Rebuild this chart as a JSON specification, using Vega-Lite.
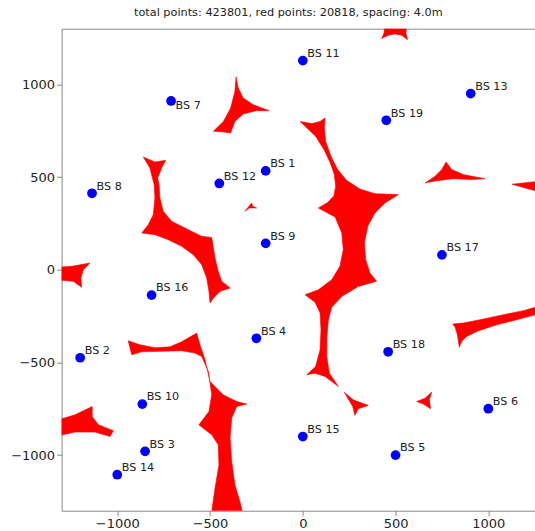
{
  "$schema": "https://vega.github.io/schema/vega-lite/v6.json",
  "autosize": {"type": "none"},
  "padding": {"left": 61.6, "top": 28.7, "right": 0, "bottom": 20},
  "width": 473.5,
  "height": 482,
  "title": {"text": "total points: 423801, red points: 20818, spacing: 4.0m", "font": "DejaVu Sans", "fontSize": 11.3, "fontWeight": "normal", "color": "#222", "anchor": "middle", "dx": -10, "offset": 1.5, "baseline": "alphabetic"},
  "config": {
    "view": {"stroke": "#888", "strokeWidth": 1},
    "axis": {"domain": false, "grid": false, "tickColor": "#888", "tickSize": 5, "tickWidth": 1, "labelFont": "DejaVu Sans", "labelFontSize": 13, "labelColor": "#222", "labelPadding": 2, "title": null}
  },
  "datasets": {
    "bs": [
      {"name": "BS 1", "x": -200, "y": 533},
      {"name": "BS 2", "x": -1200, "y": -475},
      {"name": "BS 3", "x": -850, "y": -980},
      {"name": "BS 4", "x": -250, "y": -370},
      {"name": "BS 5", "x": 500, "y": -1000},
      {"name": "BS 6", "x": 1000, "y": -750},
      {"name": "BS 7", "x": -710, "y": 910},
      {"name": "BS 8", "x": -1136, "y": 412},
      {"name": "BS 9", "x": -200, "y": 142},
      {"name": "BS 10", "x": -865, "y": -725},
      {"name": "BS 11", "x": 0, "y": 1128},
      {"name": "BS 12", "x": -450, "y": 465},
      {"name": "BS 13", "x": 905, "y": 950},
      {"name": "BS 14", "x": -1000, "y": -1106},
      {"name": "BS 15", "x": 0, "y": -900},
      {"name": "BS 16", "x": -815, "y": -137},
      {"name": "BS 17", "x": 750, "y": 80},
      {"name": "BS 18", "x": 460, "y": -443},
      {"name": "BS 19", "x": 450, "y": 806}
    ],
    "red": [
      {"s": "C", "i": 1, "x": -15, "y": 800}, {"s": "C", "i": 2, "x": 48, "y": 788}, {"s": "C", "i": 3, "x": 93, "y": 800}, {"s": "C", "i": 4, "x": 120, "y": 818}, {"s": "C", "i": 5, "x": 116, "y": 764}, {"s": "C", "i": 6, "x": 123, "y": 693}, {"s": "C", "i": 7, "x": 152, "y": 612}, {"s": "C", "i": 8, "x": 188, "y": 540}, {"s": "C", "i": 9, "x": 236, "y": 482}, {"s": "C", "i": 10, "x": 308, "y": 435}, {"s": "C", "i": 11, "x": 389, "y": 410}, {"s": "C", "i": 12, "x": 515, "y": 405}, {"s": "C", "i": 13, "x": 443, "y": 360}, {"s": "C", "i": 14, "x": 389, "y": 306}, {"s": "C", "i": 15, "x": 350, "y": 234}, {"s": "C", "i": 16, "x": 332, "y": 144}, {"s": "C", "i": 17, "x": 339, "y": 54}, {"s": "C", "i": 18, "x": 362, "y": -18}, {"s": "C", "i": 19, "x": 398, "y": -63}, {"s": "C", "i": 20, "x": 299, "y": -90}, {"s": "C", "i": 21, "x": 210, "y": -144}, {"s": "C", "i": 22, "x": 156, "y": -202}, {"s": "C", "i": 23, "x": 138, "y": -270}, {"s": "C", "i": 24, "x": 130, "y": -360}, {"s": "C", "i": 25, "x": 129, "y": -468}, {"s": "C", "i": 26, "x": 143, "y": -558}, {"s": "C", "i": 27, "x": 192, "y": -630}, {"s": "C", "i": 28, "x": 120, "y": -576}, {"s": "C", "i": 29, "x": 66, "y": -558}, {"s": "C", "i": 30, "x": 21, "y": -567}, {"s": "C", "i": 31, "x": 69, "y": -522}, {"s": "C", "i": 32, "x": 93, "y": -432}, {"s": "C", "i": 33, "x": 98, "y": -324}, {"s": "C", "i": 34, "x": 93, "y": -234}, {"s": "C", "i": 35, "x": 66, "y": -176}, {"s": "C", "i": 36, "x": 12, "y": -135}, {"s": "C", "i": 37, "x": 84, "y": -108}, {"s": "C", "i": 38, "x": 156, "y": -54}, {"s": "C", "i": 39, "x": 200, "y": 18}, {"s": "C", "i": 40, "x": 218, "y": 108}, {"s": "C", "i": 41, "x": 210, "y": 198}, {"s": "C", "i": 42, "x": 174, "y": 284}, {"s": "C", "i": 43, "x": 84, "y": 333}, {"s": "C", "i": 44, "x": 134, "y": 363}, {"s": "C", "i": 45, "x": 168, "y": 399}, {"s": "C", "i": 46, "x": 177, "y": 450}, {"s": "C", "i": 47, "x": 170, "y": 513}, {"s": "C", "i": 48, "x": 148, "y": 576}, {"s": "C", "i": 49, "x": 116, "y": 644}, {"s": "C", "i": 50, "x": 69, "y": 720},
      {"s": "A", "i": 1, "x": -360, "y": 1040}, {"s": "A", "i": 2, "x": -348, "y": 980}, {"s": "A", "i": 3, "x": -321, "y": 926}, {"s": "A", "i": 4, "x": -267, "y": 890}, {"s": "A", "i": 5, "x": -182, "y": 858}, {"s": "A", "i": 6, "x": -249, "y": 858}, {"s": "A", "i": 7, "x": -321, "y": 840}, {"s": "A", "i": 8, "x": -366, "y": 800}, {"s": "A", "i": 9, "x": -389, "y": 738}, {"s": "A", "i": 10, "x": -428, "y": 743}, {"s": "A", "i": 11, "x": -482, "y": 747}, {"s": "A", "i": 12, "x": -428, "y": 800}, {"s": "A", "i": 13, "x": -389, "y": 872}, {"s": "A", "i": 14, "x": -366, "y": 962},
      {"s": "T", "i": 1, "x": 443, "y": 1330}, {"s": "T", "i": 2, "x": 560, "y": 1330}, {"s": "T", "i": 3, "x": 556, "y": 1277}, {"s": "T", "i": 4, "x": 564, "y": 1241}, {"s": "T", "i": 5, "x": 533, "y": 1265}, {"s": "T", "i": 6, "x": 497, "y": 1272}, {"s": "T", "i": 7, "x": 461, "y": 1265}, {"s": "T", "i": 8, "x": 425, "y": 1247}, {"s": "T", "i": 9, "x": 438, "y": 1277},
      {"s": "R1", "i": 1, "x": 772, "y": 581}, {"s": "R1", "i": 2, "x": 803, "y": 540}, {"s": "R1", "i": 3, "x": 865, "y": 513}, {"s": "R1", "i": 4, "x": 982, "y": 491}, {"s": "R1", "i": 5, "x": 901, "y": 486}, {"s": "R1", "i": 6, "x": 812, "y": 491}, {"s": "R1", "i": 7, "x": 722, "y": 480}, {"s": "R1", "i": 8, "x": 659, "y": 468}, {"s": "R1", "i": 9, "x": 713, "y": 504}, {"s": "R1", "i": 10, "x": 749, "y": 540},
      {"s": "R2", "i": 1, "x": 1128, "y": 461}, {"s": "R2", "i": 2, "x": 1252, "y": 475}, {"s": "R2", "i": 3, "x": 1320, "y": 483}, {"s": "R2", "i": 4, "x": 1320, "y": 407}, {"s": "R2", "i": 5, "x": 1252, "y": 426},
      {"s": "L", "i": 1, "x": -860, "y": 608}, {"s": "L", "i": 2, "x": -797, "y": 581}, {"s": "L", "i": 3, "x": -739, "y": 590}, {"s": "L", "i": 4, "x": -761, "y": 549}, {"s": "L", "i": 5, "x": -782, "y": 495}, {"s": "L", "i": 6, "x": -775, "y": 459}, {"s": "L", "i": 7, "x": -770, "y": 387}, {"s": "L", "i": 8, "x": -752, "y": 315}, {"s": "L", "i": 9, "x": -707, "y": 261}, {"s": "L", "i": 10, "x": -617, "y": 216}, {"s": "L", "i": 11, "x": -545, "y": 180}, {"s": "L", "i": 12, "x": -491, "y": 174}, {"s": "L", "i": 13, "x": -473, "y": 63}, {"s": "L", "i": 14, "x": -456, "y": -9}, {"s": "L", "i": 15, "x": -437, "y": -63}, {"s": "L", "i": 16, "x": -392, "y": -99}, {"s": "L", "i": 17, "x": -446, "y": -117}, {"s": "L", "i": 18, "x": -482, "y": -153}, {"s": "L", "i": 19, "x": -500, "y": -180}, {"s": "L", "i": 20, "x": -506, "y": -117}, {"s": "L", "i": 21, "x": -518, "y": -45}, {"s": "L", "i": 22, "x": -545, "y": 27}, {"s": "L", "i": 23, "x": -590, "y": 81}, {"s": "L", "i": 24, "x": -653, "y": 126}, {"s": "L", "i": 25, "x": -725, "y": 162}, {"s": "L", "i": 26, "x": -797, "y": 189}, {"s": "L", "i": 27, "x": -868, "y": 198}, {"s": "L", "i": 28, "x": -833, "y": 243}, {"s": "L", "i": 29, "x": -806, "y": 297}, {"s": "L", "i": 30, "x": -797, "y": 387}, {"s": "L", "i": 31, "x": -801, "y": 459}, {"s": "L", "i": 32, "x": -806, "y": 477}, {"s": "L", "i": 33, "x": -824, "y": 549},
      {"s": "E1", "i": 1, "x": -1330, "y": 12}, {"s": "E1", "i": 2, "x": -1246, "y": 18}, {"s": "E1", "i": 3, "x": -1147, "y": 36}, {"s": "E1", "i": 4, "x": -1183, "y": 0}, {"s": "E1", "i": 5, "x": -1196, "y": -45}, {"s": "E1", "i": 6, "x": -1192, "y": -95}, {"s": "E1", "i": 7, "x": -1237, "y": -63}, {"s": "E1", "i": 8, "x": -1330, "y": -54},
      {"s": "S1", "i": 1, "x": -312, "y": 315}, {"s": "S1", "i": 2, "x": -276, "y": 360}, {"s": "S1", "i": 3, "x": -270, "y": 342}, {"s": "S1", "i": 4, "x": -249, "y": 333}, {"s": "S1", "i": 5, "x": -288, "y": 333},
      {"s": "R3", "i": 1, "x": 808, "y": -293}, {"s": "R3", "i": 2, "x": 865, "y": -288}, {"s": "R3", "i": 3, "x": 955, "y": -270}, {"s": "R3", "i": 4, "x": 1081, "y": -243}, {"s": "R3", "i": 5, "x": 1189, "y": -221}, {"s": "R3", "i": 6, "x": 1252, "y": -203}, {"s": "R3", "i": 7, "x": 1320, "y": -189}, {"s": "R3", "i": 8, "x": 1320, "y": -234}, {"s": "R3", "i": 9, "x": 1252, "y": -243}, {"s": "R3", "i": 10, "x": 1153, "y": -270}, {"s": "R3", "i": 11, "x": 1045, "y": -297}, {"s": "R3", "i": 12, "x": 937, "y": -333}, {"s": "R3", "i": 13, "x": 883, "y": -360}, {"s": "R3", "i": 14, "x": 856, "y": -387}, {"s": "R3", "i": 15, "x": 844, "y": -419}, {"s": "R3", "i": 16, "x": 833, "y": -351}, {"s": "R3", "i": 17, "x": 821, "y": -311},
      {"s": "B", "i": 1, "x": -941, "y": -383}, {"s": "B", "i": 2, "x": -878, "y": -405}, {"s": "B", "i": 3, "x": -797, "y": -421}, {"s": "B", "i": 4, "x": -716, "y": -416}, {"s": "B", "i": 5, "x": -653, "y": -389}, {"s": "B", "i": 6, "x": -572, "y": -342}, {"s": "B", "i": 7, "x": -554, "y": -405}, {"s": "B", "i": 8, "x": -527, "y": -486}, {"s": "B", "i": 9, "x": -500, "y": -603}, {"s": "B", "i": 10, "x": -429, "y": -675}, {"s": "B", "i": 11, "x": -356, "y": -711}, {"s": "B", "i": 12, "x": -302, "y": -725}, {"s": "B", "i": 13, "x": -356, "y": -738}, {"s": "B", "i": 14, "x": -383, "y": -800}, {"s": "B", "i": 15, "x": -392, "y": -908}, {"s": "B", "i": 16, "x": -383, "y": -1035}, {"s": "B", "i": 17, "x": -366, "y": -1160}, {"s": "B", "i": 18, "x": -339, "y": -1250}, {"s": "B", "i": 19, "x": -326, "y": -1304}, {"s": "B", "i": 20, "x": -317, "y": -1350}, {"s": "B", "i": 21, "x": -495, "y": -1350}, {"s": "B", "i": 22, "x": -491, "y": -1304}, {"s": "B", "i": 23, "x": -473, "y": -1178}, {"s": "B", "i": 24, "x": -452, "y": -1052}, {"s": "B", "i": 25, "x": -456, "y": -944}, {"s": "B", "i": 26, "x": -491, "y": -891}, {"s": "B", "i": 27, "x": -560, "y": -837}, {"s": "B", "i": 28, "x": -506, "y": -765}, {"s": "B", "i": 29, "x": -491, "y": -675}, {"s": "B", "i": 30, "x": -509, "y": -549}, {"s": "B", "i": 31, "x": -545, "y": -468}, {"s": "B", "i": 32, "x": -581, "y": -450}, {"s": "B", "i": 33, "x": -653, "y": -437}, {"s": "B", "i": 34, "x": -761, "y": -440}, {"s": "B", "i": 35, "x": -868, "y": -443}, {"s": "B", "i": 36, "x": -922, "y": -459},
      {"s": "E2", "i": 1, "x": -1336, "y": -815}, {"s": "E2", "i": 2, "x": -1228, "y": -783}, {"s": "E2", "i": 3, "x": -1135, "y": -738}, {"s": "E2", "i": 4, "x": -1135, "y": -792}, {"s": "E2", "i": 5, "x": -1102, "y": -836}, {"s": "E2", "i": 6, "x": -1021, "y": -869}, {"s": "E2", "i": 7, "x": -1039, "y": -900}, {"s": "E2", "i": 8, "x": -1120, "y": -876}, {"s": "E2", "i": 9, "x": -1228, "y": -876}, {"s": "E2", "i": 10, "x": -1336, "y": -900},
      {"s": "S2", "i": 1, "x": 224, "y": -662}, {"s": "S2", "i": 2, "x": 272, "y": -702}, {"s": "S2", "i": 3, "x": 353, "y": -732}, {"s": "S2", "i": 4, "x": 299, "y": -750}, {"s": "S2", "i": 5, "x": 281, "y": -786}, {"s": "S2", "i": 6, "x": 269, "y": -738},
      {"s": "S3", "i": 1, "x": 614, "y": -711}, {"s": "S3", "i": 2, "x": 659, "y": -693}, {"s": "S3", "i": 3, "x": 695, "y": -660}, {"s": "S3", "i": 4, "x": 682, "y": -702}, {"s": "S3", "i": 5, "x": 689, "y": -750}, {"s": "S3", "i": 6, "x": 650, "y": -725}
    ]
  },
  "encoding": {
    "x": {"field": "x", "type": "quantitative", "scale": {"domain": [-1300, 1252], "nice": false, "zero": false}, "axis": {"values": [-1000, -500, 0, 500, 1000], "format": "d", "labelFlush": false}},
    "y": {"field": "y", "type": "quantitative", "scale": {"domain": [-1300, 1300], "nice": false, "zero": false}, "axis": {"values": [-1000, -500, 0, 500, 1000], "format": "d", "labelFlush": false}}
  },
  "layer": [
    {
      "data": {"name": "red"},
      "mark": {"type": "line", "interpolate": "linear-closed", "fill": "#ff0000", "stroke": "#ff0000", "strokeWidth": 0.6, "clip": true},
      "encoding": {
        "detail": {"field": "s", "type": "nominal"},
        "order": {"field": "i", "type": "quantitative"}
      }
    },
    {
      "data": {"name": "bs"},
      "mark": {"type": "circle", "size": 95, "color": "#0000ff", "opacity": 1}
    },
    {
      "data": {"name": "bs"},
      "transform": [{"filter": "datum.name !== 'BS 7'"}],
      "mark": {"type": "text", "align": "left", "baseline": "alphabetic", "dx": 4.5, "dy": -3.6, "font": "DejaVu Sans", "fontSize": 11.2, "color": "#222"},
      "encoding": {"text": {"field": "name"}}
    },
    {
      "data": {"name": "bs"},
      "transform": [{"filter": "datum.name === 'BS 7'"}],
      "mark": {"type": "text", "align": "left", "baseline": "alphabetic", "dx": 4.5, "dy": 7.7, "font": "DejaVu Sans", "fontSize": 11.2, "color": "#222"},
      "encoding": {"text": {"field": "name"}}
    }
  ]
}
